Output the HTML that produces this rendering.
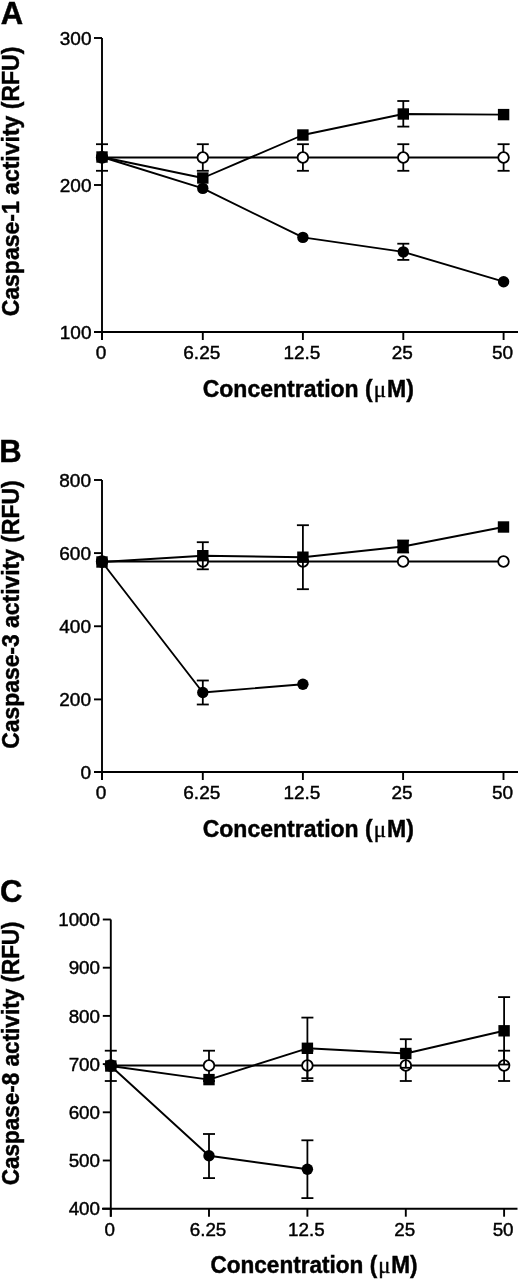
<!DOCTYPE html>
<html><head><meta charset="utf-8"><style>
html,body{margin:0;padding:0;background:#fff;}
svg{display:block;font-family:"Liberation Sans",sans-serif;filter:grayscale(1);}
text{stroke:#000;stroke-width:0.45px;}
</style></head><body>
<svg width="520" height="1280" viewBox="0 0 520 1280">
<text x="0.8" y="24" font-size="31" font-weight="bold" text-anchor="start" >A</text>
<line x1="102" y1="38" x2="102" y2="340" stroke="#000" stroke-width="1.9"/>
<line x1="94" y1="38" x2="102" y2="38" stroke="#000" stroke-width="1.9"/>
<text x="91.5" y="44.8" font-size="19" font-weight="normal" text-anchor="end" >300</text>
<line x1="94" y1="185" x2="102" y2="185" stroke="#000" stroke-width="1.9"/>
<text x="91.5" y="191.8" font-size="19" font-weight="normal" text-anchor="end" >200</text>
<line x1="94" y1="332" x2="102" y2="332" stroke="#000" stroke-width="1.9"/>
<text x="91.5" y="338.8" font-size="19" font-weight="normal" text-anchor="end" >100</text>
<line x1="94" y1="332" x2="518" y2="332" stroke="#000" stroke-width="1.9"/>
<line x1="102" y1="332" x2="102" y2="340" stroke="#000" stroke-width="1.9"/>
<text x="101" y="359.2" font-size="19" font-weight="normal" text-anchor="middle" >0</text>
<line x1="202.8" y1="332" x2="202.8" y2="340" stroke="#000" stroke-width="1.9"/>
<text x="201.8" y="359.2" font-size="19" font-weight="normal" text-anchor="middle" >6.25</text>
<line x1="302.9" y1="332" x2="302.9" y2="340" stroke="#000" stroke-width="1.9"/>
<text x="301.9" y="359.2" font-size="19" font-weight="normal" text-anchor="middle" >12.5</text>
<line x1="403.3" y1="332" x2="403.3" y2="340" stroke="#000" stroke-width="1.9"/>
<text x="402.3" y="359.2" font-size="19" font-weight="normal" text-anchor="middle" >25</text>
<line x1="503.6" y1="332" x2="503.6" y2="340" stroke="#000" stroke-width="1.9"/>
<text x="502.6" y="359.2" font-size="19" font-weight="normal" text-anchor="middle" >50</text>
<text x="0" y="0" font-size="23" font-weight="bold" text-anchor="middle" transform="translate(308.3,397.3)" textLength="211.2" lengthAdjust="spacingAndGlyphs">Concentration (<tspan font-weight="normal" font-family="Liberation Serif" dx="1">μ</tspan><tspan dx="1">M</tspan>)</text>
<text x="0" y="0" font-size="23" font-weight="bold" text-anchor="middle" transform="translate(18.8,181.5) rotate(-90)" textLength="269.7" lengthAdjust="spacingAndGlyphs">Caspase-1 activity (RFU)</text>
<polyline points="102,157.5 202.8,157.5 302.9,157.5 403.3,157.5 503.6,157.5" fill="none" stroke="#000" stroke-width="1.9" stroke-linejoin="round"/>
<line x1="102" y1="144.2" x2="102" y2="170.8" stroke="#000" stroke-width="1.8"/>
<line x1="96.0" y1="144.2" x2="108.0" y2="144.2" stroke="#000" stroke-width="1.8"/>
<line x1="96.0" y1="170.8" x2="108.0" y2="170.8" stroke="#000" stroke-width="1.8"/>
<line x1="202.8" y1="144.2" x2="202.8" y2="170.8" stroke="#000" stroke-width="1.8"/>
<line x1="196.8" y1="144.2" x2="208.8" y2="144.2" stroke="#000" stroke-width="1.8"/>
<line x1="196.8" y1="170.8" x2="208.8" y2="170.8" stroke="#000" stroke-width="1.8"/>
<line x1="302.9" y1="144.2" x2="302.9" y2="170.8" stroke="#000" stroke-width="1.8"/>
<line x1="296.9" y1="144.2" x2="308.9" y2="144.2" stroke="#000" stroke-width="1.8"/>
<line x1="296.9" y1="170.8" x2="308.9" y2="170.8" stroke="#000" stroke-width="1.8"/>
<line x1="403.3" y1="144.2" x2="403.3" y2="170.8" stroke="#000" stroke-width="1.8"/>
<line x1="397.3" y1="144.2" x2="409.3" y2="144.2" stroke="#000" stroke-width="1.8"/>
<line x1="397.3" y1="170.8" x2="409.3" y2="170.8" stroke="#000" stroke-width="1.8"/>
<line x1="503.6" y1="144.2" x2="503.6" y2="170.8" stroke="#000" stroke-width="1.8"/>
<line x1="497.6" y1="144.2" x2="509.6" y2="144.2" stroke="#000" stroke-width="1.8"/>
<line x1="497.6" y1="170.8" x2="509.6" y2="170.8" stroke="#000" stroke-width="1.8"/>
<circle cx="102" cy="157.5" r="5.3" fill="#fff" stroke="#000" stroke-width="1.8"/>
<circle cx="202.8" cy="157.5" r="5.3" fill="#fff" stroke="#000" stroke-width="1.8"/>
<circle cx="302.9" cy="157.5" r="5.3" fill="#fff" stroke="#000" stroke-width="1.8"/>
<circle cx="403.3" cy="157.5" r="5.3" fill="#fff" stroke="#000" stroke-width="1.8"/>
<circle cx="503.6" cy="157.5" r="5.3" fill="#fff" stroke="#000" stroke-width="1.8"/>
<polyline points="102,157 202.8,188.4 302.9,237.4 403.3,251.9 503.6,281.7" fill="none" stroke="#000" stroke-width="1.9" stroke-linejoin="round"/>
<line x1="403.3" y1="243.7" x2="403.3" y2="259.9" stroke="#000" stroke-width="1.8"/>
<line x1="397.3" y1="243.7" x2="409.3" y2="243.7" stroke="#000" stroke-width="1.8"/>
<line x1="397.3" y1="259.9" x2="409.3" y2="259.9" stroke="#000" stroke-width="1.8"/>
<circle cx="102" cy="157" r="5.7" fill="#000"/>
<circle cx="202.8" cy="188.4" r="5.7" fill="#000"/>
<circle cx="302.9" cy="237.4" r="5.7" fill="#000"/>
<circle cx="403.3" cy="251.9" r="5.7" fill="#000"/>
<circle cx="503.6" cy="281.7" r="5.7" fill="#000"/>
<polyline points="102,157 202.8,178 302.9,135 403.3,114 503.6,114.6" fill="none" stroke="#000" stroke-width="1.9" stroke-linejoin="round"/>
<line x1="403.3" y1="101" x2="403.3" y2="126.6" stroke="#000" stroke-width="1.8"/>
<line x1="397.3" y1="101" x2="409.3" y2="101" stroke="#000" stroke-width="1.8"/>
<line x1="397.3" y1="126.6" x2="409.3" y2="126.6" stroke="#000" stroke-width="1.8"/>
<rect x="96.3" y="151.3" width="11.4" height="11.4" fill="#000"/>
<rect x="197.10000000000002" y="172.3" width="11.4" height="11.4" fill="#000"/>
<rect x="297.2" y="129.3" width="11.4" height="11.4" fill="#000"/>
<rect x="397.6" y="108.3" width="11.4" height="11.4" fill="#000"/>
<rect x="497.90000000000003" y="108.89999999999999" width="11.4" height="11.4" fill="#000"/>
<text x="-0.7" y="461.7" font-size="31" font-weight="bold" text-anchor="start" >B</text>
<line x1="102" y1="480" x2="102" y2="780" stroke="#000" stroke-width="1.9"/>
<line x1="94" y1="480" x2="102" y2="480" stroke="#000" stroke-width="1.9"/>
<text x="91" y="486.8" font-size="19" font-weight="normal" text-anchor="end" >800</text>
<line x1="94" y1="553.1" x2="102" y2="553.1" stroke="#000" stroke-width="1.9"/>
<text x="91" y="559.9" font-size="19" font-weight="normal" text-anchor="end" >600</text>
<line x1="94" y1="626.25" x2="102" y2="626.25" stroke="#000" stroke-width="1.9"/>
<text x="91" y="633.05" font-size="19" font-weight="normal" text-anchor="end" >400</text>
<line x1="94" y1="699.4" x2="102" y2="699.4" stroke="#000" stroke-width="1.9"/>
<text x="91" y="706.1999999999999" font-size="19" font-weight="normal" text-anchor="end" >200</text>
<line x1="94" y1="772" x2="102" y2="772" stroke="#000" stroke-width="1.9"/>
<text x="91" y="778.8" font-size="19" font-weight="normal" text-anchor="end" >0</text>
<line x1="94" y1="772" x2="518" y2="772" stroke="#000" stroke-width="1.9"/>
<line x1="102" y1="772" x2="102" y2="780" stroke="#000" stroke-width="1.9"/>
<text x="101" y="799.2" font-size="19" font-weight="normal" text-anchor="middle" >0</text>
<line x1="202.8" y1="772" x2="202.8" y2="780" stroke="#000" stroke-width="1.9"/>
<text x="201.8" y="799.2" font-size="19" font-weight="normal" text-anchor="middle" >6.25</text>
<line x1="302.9" y1="772" x2="302.9" y2="780" stroke="#000" stroke-width="1.9"/>
<text x="301.9" y="799.2" font-size="19" font-weight="normal" text-anchor="middle" >12.5</text>
<line x1="403.1" y1="772" x2="403.1" y2="780" stroke="#000" stroke-width="1.9"/>
<text x="402.1" y="799.2" font-size="19" font-weight="normal" text-anchor="middle" >25</text>
<line x1="503.5" y1="772" x2="503.5" y2="780" stroke="#000" stroke-width="1.9"/>
<text x="502.5" y="799.2" font-size="19" font-weight="normal" text-anchor="middle" >50</text>
<text x="0" y="0" font-size="23" font-weight="bold" text-anchor="middle" transform="translate(308.3,837.3)" textLength="211.2" lengthAdjust="spacingAndGlyphs">Concentration (<tspan font-weight="normal" font-family="Liberation Serif" dx="1">μ</tspan><tspan dx="1">M</tspan>)</text>
<text x="0" y="0" font-size="23" font-weight="bold" text-anchor="middle" transform="translate(18.8,614.6) rotate(-90)" textLength="268.4" lengthAdjust="spacingAndGlyphs">Caspase-3 activity (RFU)</text>
<polyline points="102,561.5 202.8,561.5 302.9,561.5 403.1,561.5 503.5,561.5" fill="none" stroke="#000" stroke-width="1.9" stroke-linejoin="round"/>
<circle cx="102" cy="561.5" r="5.3" fill="#fff" stroke="#000" stroke-width="1.8"/>
<circle cx="202.8" cy="561.5" r="5.3" fill="#fff" stroke="#000" stroke-width="1.8"/>
<circle cx="302.9" cy="561.5" r="5.3" fill="#fff" stroke="#000" stroke-width="1.8"/>
<circle cx="403.1" cy="561.5" r="5.3" fill="#fff" stroke="#000" stroke-width="1.8"/>
<circle cx="503.5" cy="561.5" r="5.3" fill="#fff" stroke="#000" stroke-width="1.8"/>
<polyline points="102,562 202.8,692.5 302.9,684.3" fill="none" stroke="#000" stroke-width="1.9" stroke-linejoin="round"/>
<line x1="202.8" y1="680.5" x2="202.8" y2="704.5" stroke="#000" stroke-width="1.8"/>
<line x1="196.8" y1="680.5" x2="208.8" y2="680.5" stroke="#000" stroke-width="1.8"/>
<line x1="196.8" y1="704.5" x2="208.8" y2="704.5" stroke="#000" stroke-width="1.8"/>
<circle cx="102" cy="562" r="5.7" fill="#000"/>
<circle cx="202.8" cy="692.5" r="5.7" fill="#000"/>
<circle cx="302.9" cy="684.3" r="5.7" fill="#000"/>
<polyline points="102,562 202.8,555.7 302.9,557.2 403.1,546.5 503.5,527" fill="none" stroke="#000" stroke-width="1.9" stroke-linejoin="round"/>
<line x1="202.8" y1="542.2" x2="202.8" y2="569.3" stroke="#000" stroke-width="1.8"/>
<line x1="196.8" y1="542.2" x2="208.8" y2="542.2" stroke="#000" stroke-width="1.8"/>
<line x1="196.8" y1="569.3" x2="208.8" y2="569.3" stroke="#000" stroke-width="1.8"/>
<line x1="302.9" y1="525.2" x2="302.9" y2="589.2" stroke="#000" stroke-width="1.8"/>
<line x1="296.9" y1="525.2" x2="308.9" y2="525.2" stroke="#000" stroke-width="1.8"/>
<line x1="296.9" y1="589.2" x2="308.9" y2="589.2" stroke="#000" stroke-width="1.8"/>
<line x1="403.1" y1="540.5" x2="403.1" y2="552.5" stroke="#000" stroke-width="1.8"/>
<line x1="397.1" y1="540.5" x2="409.1" y2="540.5" stroke="#000" stroke-width="1.8"/>
<line x1="397.1" y1="552.5" x2="409.1" y2="552.5" stroke="#000" stroke-width="1.8"/>
<rect x="96.3" y="556.3" width="11.4" height="11.4" fill="#000"/>
<rect x="197.10000000000002" y="550.0" width="11.4" height="11.4" fill="#000"/>
<rect x="297.2" y="551.5" width="11.4" height="11.4" fill="#000"/>
<rect x="397.40000000000003" y="540.8" width="11.4" height="11.4" fill="#000"/>
<rect x="497.8" y="521.3" width="11.4" height="11.4" fill="#000"/>
<text x="0" y="901.7" font-size="31" font-weight="bold" text-anchor="start" >C</text>
<line x1="110.8" y1="919.5" x2="110.8" y2="1216.7" stroke="#000" stroke-width="1.9"/>
<line x1="102.8" y1="919.5" x2="110.8" y2="919.5" stroke="#000" stroke-width="1.9"/>
<text x="100" y="926.2284210526316" font-size="18.8" font-weight="normal" text-anchor="end" >1000</text>
<line x1="102.8" y1="967.7" x2="110.8" y2="967.7" stroke="#000" stroke-width="1.9"/>
<text x="100" y="974.4284210526316" font-size="18.8" font-weight="normal" text-anchor="end" >900</text>
<line x1="102.8" y1="1015.9" x2="110.8" y2="1015.9" stroke="#000" stroke-width="1.9"/>
<text x="100" y="1022.6284210526316" font-size="18.8" font-weight="normal" text-anchor="end" >800</text>
<line x1="102.8" y1="1064.1" x2="110.8" y2="1064.1" stroke="#000" stroke-width="1.9"/>
<text x="100" y="1070.8284210526315" font-size="18.8" font-weight="normal" text-anchor="end" >700</text>
<line x1="102.8" y1="1112.3" x2="110.8" y2="1112.3" stroke="#000" stroke-width="1.9"/>
<text x="100" y="1119.0284210526315" font-size="18.8" font-weight="normal" text-anchor="end" >600</text>
<line x1="102.8" y1="1160.5" x2="110.8" y2="1160.5" stroke="#000" stroke-width="1.9"/>
<text x="100" y="1167.2284210526316" font-size="18.8" font-weight="normal" text-anchor="end" >500</text>
<line x1="102.8" y1="1208.7" x2="110.8" y2="1208.7" stroke="#000" stroke-width="1.9"/>
<text x="100" y="1215.4284210526316" font-size="18.8" font-weight="normal" text-anchor="end" >400</text>
<line x1="102" y1="1208.7" x2="517.5" y2="1208.7" stroke="#000" stroke-width="1.9"/>
<line x1="110.8" y1="1208.7" x2="110.8" y2="1216.7" stroke="#000" stroke-width="1.9"/>
<text x="109.8" y="1235.7" font-size="18.8" font-weight="normal" text-anchor="middle" >0</text>
<line x1="209" y1="1208.7" x2="209" y2="1216.7" stroke="#000" stroke-width="1.9"/>
<text x="208" y="1235.7" font-size="18.8" font-weight="normal" text-anchor="middle" >6.25</text>
<line x1="307.4" y1="1208.7" x2="307.4" y2="1216.7" stroke="#000" stroke-width="1.9"/>
<text x="306.4" y="1235.7" font-size="18.8" font-weight="normal" text-anchor="middle" >12.5</text>
<line x1="405.8" y1="1208.7" x2="405.8" y2="1216.7" stroke="#000" stroke-width="1.9"/>
<text x="404.8" y="1235.7" font-size="18.8" font-weight="normal" text-anchor="middle" >25</text>
<line x1="504.1" y1="1208.7" x2="504.1" y2="1216.7" stroke="#000" stroke-width="1.9"/>
<text x="503.1" y="1235.7" font-size="18.8" font-weight="normal" text-anchor="middle" >50</text>
<text x="0" y="0" font-size="23" font-weight="bold" text-anchor="middle" transform="translate(314,1273)" textLength="207.2" lengthAdjust="spacingAndGlyphs">Concentration (<tspan font-weight="normal" font-family="Liberation Serif" dx="1">μ</tspan><tspan dx="1">M</tspan>)</text>
<text x="0" y="0" font-size="23" font-weight="bold" text-anchor="middle" transform="translate(18.8,1053.3) rotate(-90)" textLength="263.8" lengthAdjust="spacingAndGlyphs">Caspase-8 activity (RFU)</text>
<polyline points="110.8,1065.5 209,1065.5 307.4,1065.5 405.8,1065.5 504.1,1065.5" fill="none" stroke="#000" stroke-width="1.9" stroke-linejoin="round"/>
<line x1="110.8" y1="1050.7" x2="110.8" y2="1081" stroke="#000" stroke-width="1.8"/>
<line x1="104.8" y1="1050.7" x2="116.8" y2="1050.7" stroke="#000" stroke-width="1.8"/>
<line x1="104.8" y1="1081" x2="116.8" y2="1081" stroke="#000" stroke-width="1.8"/>
<line x1="209" y1="1050.7" x2="209" y2="1081" stroke="#000" stroke-width="1.8"/>
<line x1="203.0" y1="1050.7" x2="215.0" y2="1050.7" stroke="#000" stroke-width="1.8"/>
<line x1="203.0" y1="1081" x2="215.0" y2="1081" stroke="#000" stroke-width="1.8"/>
<line x1="307.4" y1="1050.7" x2="307.4" y2="1081" stroke="#000" stroke-width="1.8"/>
<line x1="301.4" y1="1050.7" x2="313.4" y2="1050.7" stroke="#000" stroke-width="1.8"/>
<line x1="301.4" y1="1081" x2="313.4" y2="1081" stroke="#000" stroke-width="1.8"/>
<line x1="405.8" y1="1050.7" x2="405.8" y2="1081" stroke="#000" stroke-width="1.8"/>
<line x1="399.8" y1="1050.7" x2="411.8" y2="1050.7" stroke="#000" stroke-width="1.8"/>
<line x1="399.8" y1="1081" x2="411.8" y2="1081" stroke="#000" stroke-width="1.8"/>
<line x1="504.1" y1="1050.7" x2="504.1" y2="1081" stroke="#000" stroke-width="1.8"/>
<line x1="498.1" y1="1050.7" x2="510.1" y2="1050.7" stroke="#000" stroke-width="1.8"/>
<line x1="498.1" y1="1081" x2="510.1" y2="1081" stroke="#000" stroke-width="1.8"/>
<circle cx="110.8" cy="1065.5" r="5.3" fill="#fff" stroke="#000" stroke-width="1.8"/>
<circle cx="209" cy="1065.5" r="5.3" fill="#fff" stroke="#000" stroke-width="1.8"/>
<circle cx="307.4" cy="1065.5" r="5.3" fill="#fff" stroke="#000" stroke-width="1.8"/>
<circle cx="405.8" cy="1065.5" r="5.3" fill="#fff" stroke="#000" stroke-width="1.8"/>
<circle cx="504.1" cy="1065.5" r="5.3" fill="#fff" stroke="#000" stroke-width="1.8"/>
<polyline points="110.8,1066 209,1155.8 307.4,1169.2" fill="none" stroke="#000" stroke-width="1.9" stroke-linejoin="round"/>
<line x1="209" y1="1134" x2="209" y2="1178.1" stroke="#000" stroke-width="1.8"/>
<line x1="203.0" y1="1134" x2="215.0" y2="1134" stroke="#000" stroke-width="1.8"/>
<line x1="203.0" y1="1178.1" x2="215.0" y2="1178.1" stroke="#000" stroke-width="1.8"/>
<line x1="307.4" y1="1140.3" x2="307.4" y2="1198.1" stroke="#000" stroke-width="1.8"/>
<line x1="301.4" y1="1140.3" x2="313.4" y2="1140.3" stroke="#000" stroke-width="1.8"/>
<line x1="301.4" y1="1198.1" x2="313.4" y2="1198.1" stroke="#000" stroke-width="1.8"/>
<circle cx="110.8" cy="1066" r="5.7" fill="#000"/>
<circle cx="209" cy="1155.8" r="5.7" fill="#000"/>
<circle cx="307.4" cy="1169.2" r="5.7" fill="#000"/>
<polyline points="110.8,1066 209,1079.6 307.4,1048.3 405.8,1053.5 504.1,1030.8" fill="none" stroke="#000" stroke-width="1.9" stroke-linejoin="round"/>
<line x1="307.4" y1="1017.6" x2="307.4" y2="1078.2" stroke="#000" stroke-width="1.8"/>
<line x1="301.4" y1="1017.6" x2="313.4" y2="1017.6" stroke="#000" stroke-width="1.8"/>
<line x1="301.4" y1="1078.2" x2="313.4" y2="1078.2" stroke="#000" stroke-width="1.8"/>
<line x1="405.8" y1="1039.2" x2="405.8" y2="1067.8" stroke="#000" stroke-width="1.8"/>
<line x1="399.8" y1="1039.2" x2="411.8" y2="1039.2" stroke="#000" stroke-width="1.8"/>
<line x1="399.8" y1="1067.8" x2="411.8" y2="1067.8" stroke="#000" stroke-width="1.8"/>
<line x1="504.1" y1="997.1" x2="504.1" y2="1064.5" stroke="#000" stroke-width="1.8"/>
<line x1="498.1" y1="997.1" x2="510.1" y2="997.1" stroke="#000" stroke-width="1.8"/>
<line x1="498.1" y1="1064.5" x2="510.1" y2="1064.5" stroke="#000" stroke-width="1.8"/>
<rect x="105.1" y="1060.3" width="11.4" height="11.4" fill="#000"/>
<rect x="203.3" y="1073.8999999999999" width="11.4" height="11.4" fill="#000"/>
<rect x="301.7" y="1042.6" width="11.4" height="11.4" fill="#000"/>
<rect x="400.1" y="1047.8" width="11.4" height="11.4" fill="#000"/>
<rect x="498.40000000000003" y="1025.1" width="11.4" height="11.4" fill="#000"/>
</svg>
</body></html>
